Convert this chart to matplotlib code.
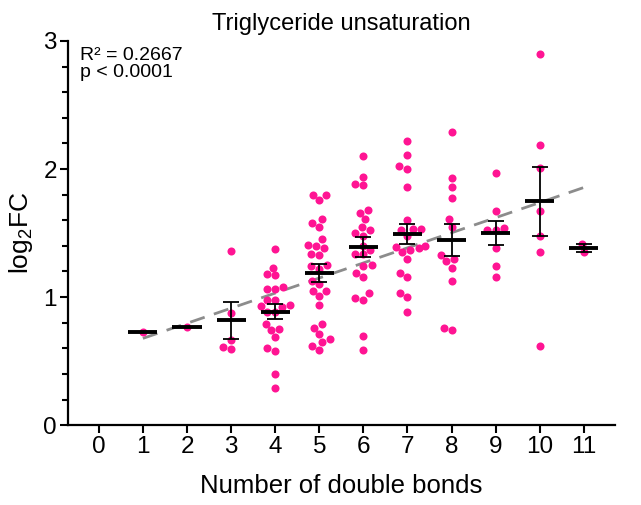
import matplotlib
matplotlib.use("Agg")
import matplotlib.pyplot as plt
import numpy as np
import seaborn as sns

plt.rcParams['font.family'] = ['Liberation Sans', 'DejaVu Sans']
plt.rcParams['mathtext.default'] = 'regular'

# log2FC values per number of double bonds
bonds = [1, 2, 3, 4, 5, 6, 7, 8, 9, 10, 11]
db1 = [0.727]
db2 = [0.766]
db3 = [1.36, 0.875, 0.664, 0.594, 0.609]
db4 = [1.377, 1.23, 1.17, 1.18, 1.06, 1.08, 1.06, 0.925, 0.98, 0.98, 0.93,
       0.935, 0.885, 0.885, 0.79, 0.74, 0.75, 0.685, 0.58, 0.60, 0.40, 0.29]
db5 = [1.80, 1.80, 1.76, 1.61, 1.58, 1.55, 1.45, 1.41, 1.38, 1.40, 1.34,
       1.33, 1.24, 1.25, 1.22, 1.125, 1.10, 1.05, 1.05, 1.01, 0.94, 0.76,
       0.79, 0.71, 0.67, 0.65, 0.62, 0.59]
db6 = [2.10, 1.94, 1.885, 1.875, 1.68, 1.66, 1.61, 1.55, 1.52, 1.50, 1.48,
       1.40, 1.336, 1.336, 1.37, 1.25, 1.24, 1.19, 1.16, 1.03, 0.98, 0.99,
       0.695, 0.586]
db7 = [2.22, 2.11, 2.02, 2.00, 1.86, 1.60, 1.53, 1.52, 1.53, 1.48, 1.39,
       1.37, 1.38, 1.35, 1.40, 1.30, 1.19, 1.16, 1.03, 1.00, 0.88]
db8 = [2.29, 1.93, 1.86, 1.77, 1.61, 1.55, 1.33, 1.28, 1.30, 1.23, 1.125,
       0.74, 0.76]
db9 = [1.97, 1.675, 1.54, 1.52, 1.52, 1.385, 1.24, 1.155]
db10 = [2.90, 2.19, 2.01, 1.675, 1.48, 1.35, 0.62]
db11 = [1.416, 1.354]
groups = [db1, db2, db3, db4, db5, db6, db7, db8, db9, db10, db11]

xticks = list(range(0, 12))
r2_text = "R\u00b2 = 0.2667"
p_text = "p < 0.0001"

pink = "#FF1493"

fig = plt.figure(figsize=(6.41, 5.05), dpi=100)
ax = fig.add_axes([0.106, 0.158, 0.853, 0.761])

# flatten for swarm + regression
xs = np.concatenate([[b] * len(g) for b, g in zip(bonds, groups)])
ys = np.concatenate(groups)

# linear fit over all points
slope, intercept = np.polyfit(xs, ys, 1)
xl = np.array([bonds[0], bonds[-1]])
ax.plot(xl, slope * xl + intercept, color="#8c8c8c", lw=2.0,
        dashes=(5.5, 3.5), zorder=1)

sns.swarmplot(x=xs, y=ys, native_scale=True, color=pink, size=5.8,
              linewidth=0, ax=ax, zorder=2, warn_thresh=1)

# mean and SEM
for b, g in zip(bonds, groups):
    g = np.array(g)
    m = g.mean()
    sem = g.std(ddof=1) / np.sqrt(len(g)) if len(g) > 1 else 0
    ax.plot([b - 0.33, b + 0.33], [m, m], color="black", lw=2.8,
            zorder=4, solid_capstyle="butt")
    if sem > 0:
        ax.errorbar(b, m, yerr=sem, color="black", lw=1.3, capsize=5.5,
                    capthick=1.3, zorder=3)

ax.set_xlim(-0.7, 11.7)
ax.set_ylim(0, 3)
ax.set_xticks(xticks)
ax.set_xticklabels([str(t) for t in xticks])
ax.set_yticks([0, 1, 2, 3])
ax.set_yticks(np.arange(0, 3.01, 0.2), minor=True)

for s in ["top", "right"]:
    ax.spines[s].set_visible(False)
for s in ["left", "bottom"]:
    ax.spines[s].set_linewidth(1.6)
ax.tick_params(axis="both", which="major", length=6, width=1.5,
               labelsize=17.5, pad=2)
ax.tick_params(axis="y", which="minor", length=4, width=1.5)
ax.tick_params(axis="x", which="minor", length=0)

ax.set_xlabel("Number of double bonds", fontsize=18.5, labelpad=11)
ax.set_ylabel("log$_2$FC", fontsize=19, labelpad=6)
ax.set_title("Triglyceride unsaturation", fontsize=17, pad=8)

ax.text(0.022, 0.985, r2_text + "\n" + p_text, transform=ax.transAxes,
        fontsize=14, va="top", ha="left", linespacing=1.0)

fig.savefig("out.png", dpi=100)
